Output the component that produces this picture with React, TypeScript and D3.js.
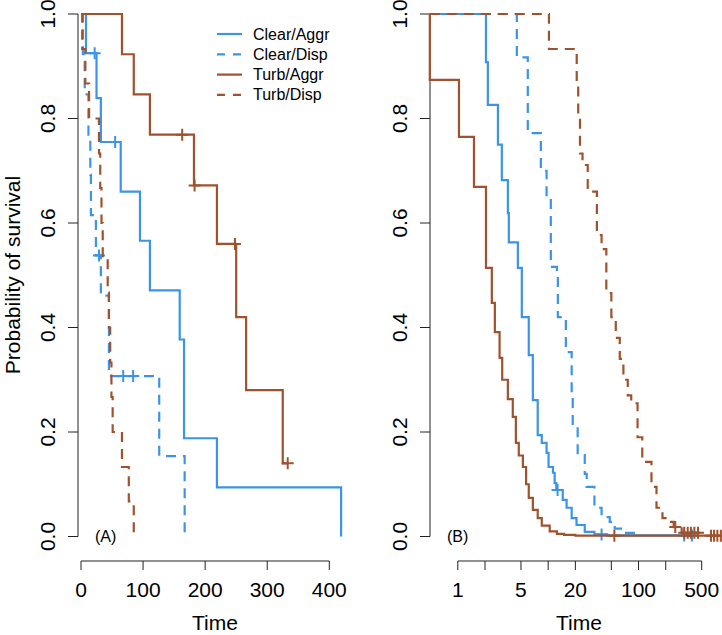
import React from "react";
import * as d3 from "d3";

// ---------- data ----------
const SERIES = ["Clear/Aggr", "Clear/Disp", "Turb/Aggr", "Turb/Disp"];
const Y_TICKS = [0, 0.2, 0.4, 0.6, 0.8, 1.0];
const A_TICKS = [0, 100, 200, 300, 400];
const B_TICKS = [1, 2, 5, 10, 20, 50, 100, 200, 500];
const B_LABELS = [1, 5, 20, 100, 500];

// Panel A (linear time)
const clearAggrA_t = [8, 25, 32, 64, 95, 111, 159, 166, 219, 419];
const clearAggrA_s = [0.925, 0.839, 0.755, 0.66, 0.566, 0.471, 0.377, 0.188, 0.094, 0];
const clearAggrA_c = [22, 55];

const clearDispA_t = [3, 6, 12, 15, 16, 24, 32, 45, 126, 167];
const clearDispA_s = [0.923, 0.846, 0.769, 0.692, 0.615, 0.538, 0.461, 0.307, 0.154, 0];
const clearDispA_c = [29, 68, 84];

const turbAggrA_t = [66, 85, 111, 182, 219, 250, 266, 325];
const turbAggrA_s = [0.923, 0.846, 0.769, 0.672, 0.56, 0.42, 0.28, 0.14];
const turbAggrA_c = [163, 183, 248, 333];

const turbDispA_t = [2, 7, 13, 29, 31, 33, 35, 43, 45, 47, 49, 51, 66, 77, 85];
const turbDispA_s = [0.933, 0.867, 0.8, 0.733, 0.667, 0.6, 0.533, 0.467, 0.4, 0.333, 0.267, 0.2, 0.133, 0.067, 0];
const turbDispA_c: number[] = [];

// Panel B (log time)
const START_B = 0.49;
const clearAggrB_t = [2.05, 2.15, 2.78, 3.07, 3.58, 3.67, 4.62, 5.11, 6.1, 6.77, 7.66, 8.5, 9.6, 10.1, 11.3, 11.8, 12.3, 14.5, 16, 18.2, 20.6, 25.4, 32.5, 45];
const clearAggrB_s = [0.908, 0.826, 0.75, 0.682, 0.619, 0.563, 0.514, 0.42, 0.347, 0.261, 0.194, 0.179, 0.16, 0.133, 0.122, 0.102, 0.089, 0.07, 0.055, 0.035, 0.022, 0.009, 0.004, 0.002];
const clearAggrB_c = [12.7, 39, 320, 390];

const clearDispB_t = [4.5, 5.95, 8.3, 9.6, 10.7, 12.5, 12.8, 15.7, 18.2, 18.7, 21.2, 25.4, 26.7, 32.5, 39, 48, 54.5, 66, 97];
const clearDispB_s = [0.917, 0.772, 0.7, 0.646, 0.516, 0.498, 0.42, 0.353, 0.267, 0.21, 0.156, 0.12, 0.095, 0.055, 0.037, 0.028, 0.015, 0.007, 0];
const clearDispB_c: number[] = [];

const turbAggrB_t = [0.49, 1.03, 1.51, 2.05, 2.38, 2.57, 2.9, 3.1, 3.58, 4.06, 4.39, 4.73, 5.25, 5.7, 6.1, 6.77, 7.66, 8.5, 10.4, 12.5, 15, 20];
const turbAggrB_s = [0.874, 0.765, 0.669, 0.514, 0.447, 0.391, 0.342, 0.3, 0.263, 0.229, 0.179, 0.155, 0.133, 0.1, 0.074, 0.051, 0.035, 0.021, 0.01, 0.005, 0.003, 0.0015];
const turbAggrB_c = [54, 634, 685, 745, 815];

const turbDispB_t = [10.2, 20.7, 21.5, 22.5, 24, 27.4, 34.6, 39, 44, 50, 56, 62, 68, 76, 83, 97.5, 110, 139, 158, 184, 220, 245, 300];
const turbDispB_s = [0.933, 0.867, 0.8, 0.733, 0.711, 0.66, 0.577, 0.55, 0.466, 0.42, 0.38, 0.34, 0.3, 0.27, 0.255, 0.19, 0.143, 0.095, 0.055, 0.035, 0.028, 0.018, 0.007];
const turbDispB_c = [255, 320, 350, 380, 415, 455];

// ---------- style ----------
const BLUE = "#3B94E6";
const BROWN = "#A0522D";
const FONT = "'Liberation Sans', Arial, Helvetica, sans-serif";
const DASH = "10,7";

const yS = d3.scaleLinear().domain([0, 1]).range([536.5, 14]);
const xA = d3.scaleLinear().domain([0, 400]).range([81, 329.3]);
const xB = d3.scaleLog().domain([1, 500]).range([457.8, 701.7]);

type Curve = { t: number[]; s: number[]; c: number[]; color: string; dashed: boolean };

function survAt(t: number[], s: number[], time: number) {
  let v = 1;
  for (let i = 0; i < t.length; i++) if (t[i] <= time) v = s[i];
  return v;
}

function KM({ curve, x, start }: { curve: Curve; x: (v: number) => number; start: number }) {
  const { t, s, c } = curve;
  const end = Math.max(t[t.length - 1], c.length ? c[c.length - 1] : 0);
  const pts: [number, number][] = [[start, 1]];
  t.forEach((ti, i) => pts.push([ti, s[i]]));
  pts.push([end, s[s.length - 1]]);
  const line = d3
    .line<[number, number]>()
    .x((d) => x(d[0]))
    .y((d) => yS(d[1]))
    .curve(d3.curveStepAfter);
  return (
    <g>
      <path
        d={line(pts) || ""}
        fill="none"
        stroke={curve.color}
        strokeWidth={2.2}
        strokeDasharray={curve.dashed ? DASH : undefined}
      />
      {c.map((ci, i) => {
        const cx = x(ci);
        const cy = yS(survAt(t, s, ci));
        return (
          <path
            key={i}
            d={`M${cx - 6},${cy}h12M${cx},${cy - 6}v12`}
            stroke={curve.color}
            strokeWidth={2}
            fill="none"
          />
        );
      })}
    </g>
  );
}

function YAxis({ x0 }: { x0: number }) {
  return (
    <g stroke="#222" fill="none">
      <line x1={x0} x2={x0} y1={yS(0)} y2={yS(1)} strokeWidth={1} />
      {Y_TICKS.map((v) => (
        <g key={v}>
          <line x1={x0 - 10} x2={x0} y1={yS(v)} y2={yS(v)} strokeWidth={1} />
          <text
            transform={`translate(${x0 - 23},${yS(v)}) rotate(-90)`}
            textAnchor="middle"
            fill="#000"
            stroke="none"
            fontSize={21}
            fontFamily={FONT}
          >
            {v.toFixed(1)}
          </text>
        </g>
      ))}
    </g>
  );
}

export default function App() {
  const panelA: Curve[] = [
    { t: clearAggrA_t, s: clearAggrA_s, c: clearAggrA_c, color: BLUE, dashed: false },
    { t: clearDispA_t, s: clearDispA_s, c: clearDispA_c, color: BLUE, dashed: true },
    { t: turbAggrA_t, s: turbAggrA_s, c: turbAggrA_c, color: BROWN, dashed: false },
    { t: turbDispA_t, s: turbDispA_s, c: turbDispA_c, color: BROWN, dashed: true },
  ];
  const panelB: Curve[] = [
    { t: clearAggrB_t, s: clearAggrB_s, c: clearAggrB_c, color: BLUE, dashed: false },
    { t: clearDispB_t, s: clearDispB_s, c: clearDispB_c, color: BLUE, dashed: true },
    { t: turbAggrB_t, s: turbAggrB_s, c: turbAggrB_c, color: BROWN, dashed: false },
    { t: turbDispB_t, s: turbDispB_s, c: turbDispB_c, color: BROWN, dashed: true },
  ];
  const xAxisY = 561;
  return (
    <svg
      width={722}
      height={635}
      style={{ position: "absolute", left: 0, top: 0, background: "#fff" }}
      fontFamily={FONT}
    >
      <rect width={722} height={635} fill="#fff" />
      {/* Panel A */}
      <YAxis x0={78} />
      <g stroke="#222">
        <line x1={xA(0)} x2={xA(400)} y1={xAxisY} y2={xAxisY} />
        {A_TICKS.map((v) => (
          <line key={v} x1={xA(v)} x2={xA(v)} y1={xAxisY} y2={xAxisY + 9} />
        ))}
      </g>
      {A_TICKS.map((v) => (
        <text key={v} x={xA(v)} y={597} textAnchor="middle" fontSize={21}>
          {v}
        </text>
      ))}
      <text x={215} y={630} textAnchor="middle" fontSize={21}>
        Time
      </text>
      <text transform="translate(20,275) rotate(-90)" textAnchor="middle" fontSize={21}>
        Probability of survival
      </text>
      <text x={95} y={542} fontSize={16}>
        (A)
      </text>
      {panelA.map((c, i) => (
        <KM key={i} curve={c} x={xA} start={0} />
      ))}
      {/* Legend */}
      {SERIES.map((name, i) => {
        const y = 34 + i * 20.3;
        return (
          <g key={name}>
            <line
              x1={217}
              x2={242}
              y1={y}
              y2={y}
              stroke={i < 2 ? BLUE : BROWN}
              strokeWidth={2.2}
              strokeDasharray={i % 2 === 1 ? "8,8" : undefined}
            />
            <text x={253} y={y + 5.5} fontSize={16}>
              {name}
            </text>
          </g>
        );
      })}
      {/* Panel B */}
      <YAxis x0={430} />
      <g stroke="#222">
        <line x1={xB(1)} x2={xB(500)} y1={xAxisY} y2={xAxisY} />
        {B_TICKS.map((v) => (
          <line key={v} x1={xB(v)} x2={xB(v)} y1={xAxisY} y2={xAxisY + 9} />
        ))}
      </g>
      {B_LABELS.map((v) => (
        <text key={v} x={xB(v)} y={597} textAnchor="middle" fontSize={21}>
          {v}
        </text>
      ))}
      <text x={579} y={630} textAnchor="middle" fontSize={21}>
        Time
      </text>
      <text x={447} y={542} fontSize={16}>
        (B)
      </text>
      {panelB.map((c, i) => (
        <KM key={i} curve={c} x={xB} start={START_B} />
      ))}
    </svg>
  );
}
